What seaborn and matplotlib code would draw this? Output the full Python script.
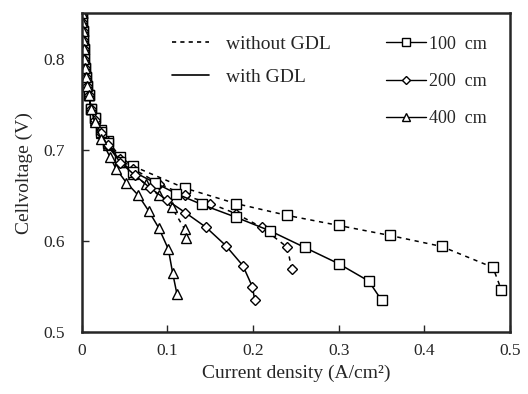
import numpy as np
import pandas as pd
import seaborn as sns
import matplotlib.pyplot as plt
from matplotlib.lines import Line2D

# low current region (shared shape of the activation drop)
low_x = [0.0, 0.0005, 0.001, 0.0015, 0.002, 0.003, 0.004, 0.005, 0.006, 0.008, 0.011]
low_y = [0.85, 0.84, 0.83, 0.82, 0.81, 0.80, 0.79, 0.78, 0.77, 0.76, 0.745]

# without GDL (dashed)
x_100_dash = low_x + [0.015, 0.022, 0.03, 0.045, 0.06, 0.12, 0.18, 0.24, 0.30, 0.36, 0.42, 0.48, 0.49]
y_100_dash = low_y + [0.735, 0.722, 0.710, 0.692, 0.682, 0.658, 0.641, 0.628, 0.617, 0.606, 0.594, 0.571, 0.546]
x_200_dash = low_x + [0.015, 0.022, 0.03, 0.045, 0.06, 0.09, 0.12, 0.15, 0.18, 0.21, 0.24, 0.245]
y_200_dash = low_y + [0.734, 0.720, 0.708, 0.690, 0.679, 0.663, 0.650, 0.641, 0.630, 0.615, 0.593, 0.569]
x_400_dash = low_x + [0.015, 0.022, 0.03, 0.045, 0.06, 0.075, 0.09, 0.105, 0.12, 0.122]
y_400_dash = low_y + [0.733, 0.718, 0.705, 0.687, 0.673, 0.662, 0.650, 0.637, 0.613, 0.603]

# with GDL (solid)
x_100_sol = low_x + [0.015, 0.022, 0.03, 0.045, 0.06, 0.085, 0.11, 0.14, 0.18, 0.22, 0.26, 0.30, 0.335, 0.35]
y_100_sol = low_y + [0.735, 0.720, 0.707, 0.687, 0.676, 0.664, 0.652, 0.640, 0.626, 0.611, 0.593, 0.575, 0.556, 0.535]
x_200_sol = low_x + [0.015, 0.022, 0.03, 0.045, 0.062, 0.08, 0.099, 0.121, 0.145, 0.168, 0.188, 0.199, 0.202]
y_200_sol = low_y + [0.733, 0.718, 0.705, 0.686, 0.672, 0.658, 0.645, 0.631, 0.615, 0.595, 0.573, 0.550, 0.535]
x_400_sol = low_x + [0.015, 0.022, 0.033, 0.04, 0.052, 0.066, 0.078, 0.09, 0.101, 0.106, 0.111]
y_400_sol = low_y + [0.730, 0.712, 0.692, 0.679, 0.664, 0.650, 0.633, 0.614, 0.591, 0.565, 0.542]

lengths = ['100  cm', '200  cm', '400  cm']

sns.set_style("ticks")
plt.rcParams['font.family'] = ['Liberation Serif', 'DejaVu Serif']

fig = plt.figure(figsize=(5.28, 3.94), dpi=100)
ax = fig.add_axes([0.155, 0.157, 0.811, 0.81])

dash = (0, (2.8, 3.0))
series = [
    (x_100_dash, y_100_dash, 's', 7, dash),
    (x_200_dash, y_200_dash, 'D', 5.5, dash),
    (x_400_dash, y_400_dash, '^', 7, dash),
    (x_100_sol, y_100_sol, 's', 7, '-'),
    (x_200_sol, y_200_sol, 'D', 5.5, '-'),
    (x_400_sol, y_400_sol, '^', 7, '-'),
]
for xs, ys, mk, ms, ls in series:
    sns.lineplot(x=xs, y=ys, ax=ax, sort=False, estimator=None, color='k',
                 linestyle=ls, linewidth=1.1, marker=mk, markersize=ms,
                 markerfacecolor='white', markeredgecolor='k', markeredgewidth=1.0,
                 legend=False)

ax.set_xlim(0, 0.5)
ax.set_ylim(0.5, 0.85)
ax.set_xticks([0, 0.1, 0.2, 0.3, 0.4, 0.5])
ax.set_xticklabels(['0', '0.1', '0.2', '0.3', '0.4', '0.5'])
ax.set_yticks([0.5, 0.6, 0.7, 0.8])
ax.tick_params(axis='x', direction='in', labelsize=12.5, length=5, width=1, pad=8)
ax.tick_params(axis='y', direction='in', labelsize=12.5, length=5, width=1, pad=12)
for s in ax.spines.values():
    s.set_linewidth(1.8)
ax.set_xlabel('Current density (A/cm²)', fontsize=14, labelpad=4)
ax.set_ylabel('Cellvoltage (V)', fontsize=14, labelpad=8)

# line-style legend
h1 = [Line2D([], [], color='k', linestyle=(0, (2.5, 2.5)), linewidth=1.2),
      Line2D([], [], color='k', linestyle='-', linewidth=1.2)]
leg1 = ax.legend(h1, ['without GDL', 'with GDL'], loc='upper left',
                 bbox_to_anchor=(0.17, 0.985), frameon=False, fontsize=14,
                 handlelength=1.9, labelspacing=0.8, handletextpad=0.85)
ax.add_artist(leg1)

# marker legend
h2 = [Line2D([], [], color='k', linewidth=1.0, marker=m, markersize=s,
             markerfacecolor='white', markeredgecolor='k')
      for m, s in zip(['s', 'D', '^'], [6, 4.5, 6])]
ax.legend(h2, lengths, loc='upper right', bbox_to_anchor=(0.985, 0.98),
          frameon=False, fontsize=13, handlelength=2.2, labelspacing=1.12,
          handletextpad=0.2)

fig.savefig('out.png', dpi=100)
